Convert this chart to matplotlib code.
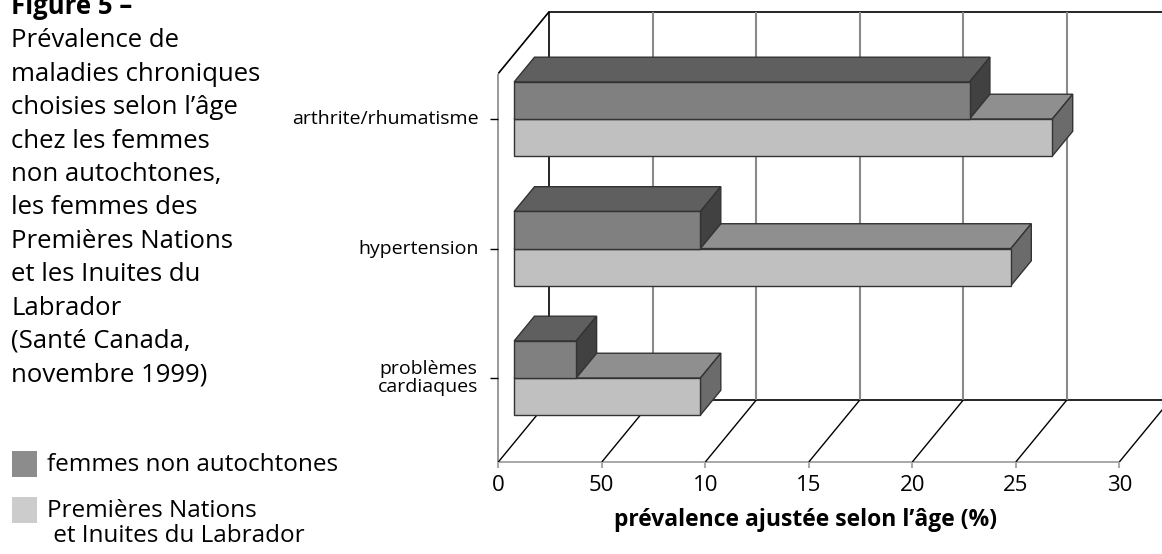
import matplotlib.pyplot as plt
from matplotlib.patches import Polygon, Rectangle

# data
categories = ['problèmes\ncardiaques', 'hypertension', 'arthrite/rhumatisme']
non_autochtones = [3, 9, 22]          # femmes non autochtones
premieres_nations = [9, 24, 26]       # Premières Nations et Inuites du Labrador
x_ticks = [0, 5, 10, 15, 20, 25, 30]
x_tick_labels = ['0', '50', '10', '15', '20', '25', '30']

title_lines = ['Figure 5 –', 'Prévalence de', 'maladies chroniques',
               'choisies selon l’âge', 'chez les femmes', 'non autochtones,',
               'les femmes des', 'Premières Nations', 'et les Inuites du',
               'Labrador', '(Santé Canada,', 'novembre 1999)']
legend_labels = [['femmes non autochtones'], ['Premières Nations', ' et Inuites du Labrador']]

plt.rcParams['font.family'] = ['Open Sans', 'DejaVu Sans']

W, H = 1162, 554
fig = plt.figure(figsize=(W / 100, H / 100), dpi=100)

# chart axes: x = value, y = category units, oblique depth offset
px_x0, px_per_unit = 498.3, 20.7
px_y0, px_per_cat = 462.0, 129.5
ax = fig.add_axes([470 / W, 0, 1 - 470 / W, 1])
ax.set_xlim((470 - px_x0) / px_per_unit, (W - px_x0) / px_per_unit)
ax.set_ylim(-(H - px_y0) / px_per_cat, px_y0 / px_per_cat)
ax.axis('off')

DX, DY = 51 / px_per_unit, 62 / px_per_cat   # full depth
f0, f1 = 0.31, 0.71                          # bar front / back depth
bar_h = 0.286
n = len(categories)
x_end = ax.get_xlim()[1]


def P(x, y, d):
    return (x + d * DX, y + d * DY)


def line(pts, color, lw=1.0, z=1):
    xs, ys = zip(*pts)
    ax.plot(xs, ys, color=color, lw=lw, zorder=z, solid_capstyle='butt')


# walls and floor
line([P(0, 0, 1), P(0, n, 1)], 'black', 1.2)
line([P(0, n, 1), P(x_end, n, 1)], 'black', 1.2)
line([P(0, n, 0), P(0, n, 1)], 'black', 1.2)
line([P(0, 0, 0), P(0, n, 0)], '#888888', 1.2)
line([P(0, 0, 1), P(x_end, 0, 1)], 'black', 1.2)
line([P(0, 0, 0), P(x_ticks[-1], 0, 0)], '#999999', 1.2)
for t in x_ticks:
    if t > 0:
        line([P(t, 0, 1), P(t, n, 1)], '#8a8a8a', 1.5)
    line([P(t, 0, 0), P(t, 0, 1)], 'black', 1.0)
    line([P(t, 0, 0), P(t, -0.045, 0)], '#aaaaaa', 1.5)

# bars
series = [
    (premieres_nations, -bar_h, ('#8f8f8f', '#c0c0c0', '#6b6b6b')),
    (non_autochtones, 0.0, ('#5f5f5f', '#808080', '#414141')),
]
for i in range(n):
    yc = i + 0.5
    for vals, off, (c_top, c_front, c_side) in series:
        v = vals[i]
        y0, y1 = yc + off, yc + off + bar_h
        faces = [
            ([P(0, y1, f0), P(v, y1, f0), P(v, y1, f1), P(0, y1, f1)], c_top),
            ([P(v, y0, f0), P(v, y0, f1), P(v, y1, f1), P(v, y1, f0)], c_side),
            ([P(0, y0, f0), P(v, y0, f0), P(v, y1, f0), P(0, y1, f0)], c_front),
        ]
        for pts, c in faces:
            ax.add_patch(Polygon(pts, closed=True, facecolor=c, edgecolor='#333333',
                                 lw=1.0, zorder=3))

# category ticks and labels
for i, cat in enumerate(categories):
    ty = i + 0.5 + f0 * DY
    line([(-0.4, ty), (0, ty)], 'black', 1.0)
    ax.text(-0.95, ty, cat, ha='right', va='center', multialignment='center',
            fontsize=14, linespacing=1.0)

# x tick labels and axis title
for t, lab in zip(x_ticks, x_tick_labels):
    ax.text(t, -0.18, lab, ha='center', va='center', fontsize=16)
ax.text(14.85, -0.45, 'prévalence ajustée selon l’âge (%)', ha='center', va='center',
        fontsize=16.5, fontweight='bold')

# left title block
for k, txt in enumerate(title_lines):
    fig.text(11 / W, 1 - (14 + 33.4 * k) / H, txt, ha='left', va='baseline',
             fontsize=18.5, fontweight='bold' if k == 0 else 'normal')

# legend
legend_colors = ['#8c8c8c', '#cccccc']
for k, (lines_, c) in enumerate(zip(legend_labels, legend_colors)):
    top = 451 + 46 * k
    fig.add_artist(Rectangle((11.5 / W, 1 - (top + 25.5) / H), 25 / W, 25.5 / H,
                             transform=fig.transFigure, facecolor=c, edgecolor='none'))
    for j, txt in enumerate(lines_):
        fig.text(47 / W, 1 - (top + 20 + 25 * j) / H, txt, ha='left', va='baseline',
                 fontsize=17.5)

fig.savefig('out.png', dpi=100)
